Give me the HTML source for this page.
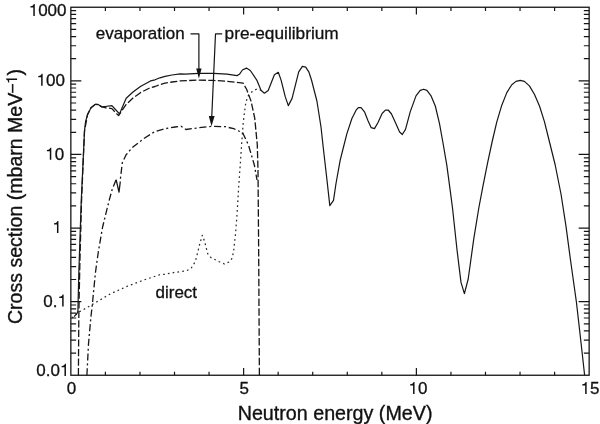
<!DOCTYPE html>
<html><head><meta charset="utf-8"><title>Neutron spectrum</title>
<style>html,body{margin:0;padding:0;background:#fff}svg{display:block;will-change:transform}</style></head>
<body><svg width="600" height="424" viewBox="0 0 600 424">
<rect width="600" height="424" fill="#fff"/>
<rect x="70.85" y="7.25" width="518.30" height="368.00" fill="none" stroke="#161616" stroke-width="1.3"/>
<path d="M70.85,353.09h5.3M589.15,353.09h-5.3M70.85,340.13h5.3M589.15,340.13h-5.3M70.85,330.94h5.3M589.15,330.94h-5.3M70.85,323.81h5.3M589.15,323.81h-5.3M70.85,317.98h5.3M589.15,317.98h-5.3M70.85,313.05h5.3M589.15,313.05h-5.3M70.85,308.78h5.3M589.15,308.78h-5.3M70.85,305.02h5.3M589.15,305.02h-5.3M70.85,301.65h10.5M589.15,301.65h-10.5M70.85,279.49h5.3M589.15,279.49h-5.3M70.85,266.53h5.3M589.15,266.53h-5.3M70.85,257.34h5.3M589.15,257.34h-5.3M70.85,250.21h5.3M589.15,250.21h-5.3M70.85,244.38h5.3M589.15,244.38h-5.3M70.85,239.45h5.3M589.15,239.45h-5.3M70.85,235.18h5.3M589.15,235.18h-5.3M70.85,231.42h5.3M589.15,231.42h-5.3M70.85,228.05h10.5M589.15,228.05h-10.5M70.85,205.89h5.3M589.15,205.89h-5.3M70.85,192.93h5.3M589.15,192.93h-5.3M70.85,183.74h5.3M589.15,183.74h-5.3M70.85,176.61h5.3M589.15,176.61h-5.3M70.85,170.78h5.3M589.15,170.78h-5.3M70.85,165.85h5.3M589.15,165.85h-5.3M70.85,161.58h5.3M589.15,161.58h-5.3M70.85,157.82h5.3M589.15,157.82h-5.3M70.85,154.45h10.5M589.15,154.45h-10.5M70.85,132.29h5.3M589.15,132.29h-5.3M70.85,119.33h5.3M589.15,119.33h-5.3M70.85,110.14h5.3M589.15,110.14h-5.3M70.85,103.01h5.3M589.15,103.01h-5.3M70.85,97.18h5.3M589.15,97.18h-5.3M70.85,92.25h5.3M589.15,92.25h-5.3M70.85,87.98h5.3M589.15,87.98h-5.3M70.85,84.22h5.3M589.15,84.22h-5.3M70.85,80.85h10.5M589.15,80.85h-10.5M70.85,58.69h5.3M589.15,58.69h-5.3M70.85,45.73h5.3M589.15,45.73h-5.3M70.85,36.54h5.3M589.15,36.54h-5.3M70.85,29.41h5.3M589.15,29.41h-5.3M70.85,23.58h5.3M589.15,23.58h-5.3M70.85,18.65h5.3M589.15,18.65h-5.3M70.85,14.38h5.3M589.15,14.38h-5.3M70.85,10.62h5.3M589.15,10.62h-5.3M105.40,375.25v-3.6M105.40,7.25v3.8M139.96,375.25v-3.6M139.96,7.25v3.8M174.51,375.25v-3.6M174.51,7.25v3.8M209.06,375.25v-3.6M209.06,7.25v3.8M243.62,375.25v-7.2M243.62,7.25v7.3M278.17,375.25v-3.6M278.17,7.25v3.8M312.72,375.25v-3.6M312.72,7.25v3.8M347.28,375.25v-3.6M347.28,7.25v3.8M381.83,375.25v-3.6M381.83,7.25v3.8M416.38,375.25v-7.2M416.38,7.25v7.3M450.94,375.25v-3.6M450.94,7.25v3.8M485.49,375.25v-3.6M485.49,7.25v3.8M520.04,375.25v-3.6M520.04,7.25v3.8M554.60,375.25v-3.6M554.60,7.25v3.8" fill="none" stroke="#161616" stroke-width="1.2"/>
<g fill="none" stroke="#161616" stroke-width="1.2" stroke-linejoin="round">
<path d="M72,318 L78,312.5 L81,311 L91.8,304.8 L110.3,293.9 L127,286.4 L143.8,280 L160,274.7 L165,274.3 L175,272.3 L186,271 L191,268.5 L195.2,261.8 L197.7,252.5 L199.5,245 L202.2,235.3 L204.5,241 L206.5,249 L207.7,253.7 L211,257.6 L219.4,261.8 L224.5,264 L229.5,261.8 L232,258.4 L233.5,252 L235.4,235 L237,215 L238.7,186.7 L240.1,166.9 L241.8,141.8 L243.2,123 L244.4,113 L245.9,101.9 L248.5,95.2 L251.8,91.9 L256.8,89 L261,90.2" stroke-dasharray="1.7 3.15" stroke-width="1.25" stroke="#2a2a2a"/>
<path d="M86.9,375.25 L88.5,344 L90.8,318 L92.3,304.8 L95.4,273 L96.9,262 L98.3,252 L102.6,227 L109.0,201 L112,190 L116.1,179.6" stroke-dasharray="7.1 2.8 2.0 2.8" stroke-width="1.3"/>
<path d="M116.1,179.6 L119,192.1 L120.3,181.5" stroke-width="1.3"/>
<path d="M120.3,181.5 L120.5,178 L122.3,162.8 L126,155 L132,147.8 L143.8,138.5 L155,131.5 L165,128.7 L175,127 L181,126.2 L186,129.5 L198.6,127.8 L212,126.2 L225.4,126.7 L233.7,128.7 L238.8,131 L242.6,132.6 L248.5,145.1 L254.4,165.2 L257,180" stroke-dasharray="7.14 2.81 2.01 2.82" stroke-dashoffset="7.14" stroke-width="1.3"/>
<path d="M78.4,375.25 L78.8,318 L79.3,290 L79.9,262 L80.8,228 L81.5,202 L84.5,131 L87.6,114.4 L91,107.7 L95.2,104.4" stroke-dasharray="7.2 2.35" stroke-width="1.3"/>
<path d="M95.2,104.4 L98.2,104.5 L101.9,106.9 L106,107.8 L111.9,108.6 L115,112 L118.6,115.6 L121,112 L126.2,104.4 L133,98 L140.4,92.7 L150.5,87.6 L155,86.5 L160,84.5 L165,83.1 L172,82 L180.1,80.9 L198.6,80.1 L213.6,80.4 L227,81.3 L243.1,83.1 L246.7,89.5 L251.0,101 L254.7,118 L257.3,145 L258.0,170" stroke-dasharray="7.2 2.35" stroke-dashoffset="4.48" stroke-width="1.3"/>
<path d="M259.4,375.25 L258.7,256 L258.0,170" stroke-dasharray="7.5 2.4" stroke-width="1.3"/>
<path d="M74,316.6 L77,313.6 L77.9,311 L78.4,290 L78.9,270 L79.6,250 L81.2,202 L84.5,131 L85.5,122 L87.6,114.4 L91,107.7 L95.2,104.4 L98.2,104.5 L101.9,106.9 L105,106.5 L111.9,105.7 L115,109 L119.5,113.9 L122,108 L126.2,98.2 L133,92 L140.4,86.5 L150.5,80.9 L155,79.8 L160,77.8 L165,76.4 L172,75 L180.1,73.9 L185.2,74.2 L198.6,73.4 L213.6,73.4 L227,74.2 L237,75.6 L239.4,74.3 L242.4,70 L246.4,68.1 L250.3,70.5 L256.8,80.1 L261,90.2 L264.4,93.2 L268.2,90.5 L274.4,74.8 L278.3,72.3 L281.1,80.1 L285.3,96.9 L288.3,105.6 L292,98.6 L298.7,71.8 L302.4,66.4 L305.7,67.1 L308.8,71.8 L311.5,80 L316.9,101 L321,127 L323.3,148 L326.8,178.5 L329.8,205.6 L333.5,200.3 L336,183.5 L340.2,160.1 L343,149 L346.9,133.6 L351.9,118.5 L356.1,110.2 L358.3,107.6 L361.1,107.6 L364.5,111.8 L367.8,120.2 L371.2,127.7 L374.5,128.6 L377.9,122.7 L382.1,113.5 L385.4,110.2 L388.2,110 L391.5,114 L395.6,123 L399.6,132 L402.3,134.5 L405.5,129.4 L410.2,111.9 L416,95.9 L420.2,90.4 L423.6,89.2 L426.9,90.4 L431.1,95.9 L435.3,106 L439.5,123.6 L443,143 L446.8,165.1 L450.2,190.3 L452.5,208 L457,249.8 L461,282.4 L464.4,293.6 L468.2,279 L473.8,238.6 L478.8,208 L482.8,186.9 L487.8,161.8 L492.3,141 L496.8,121.9 L501.8,105.2 L506.8,92.6 L511.8,84.7 L516,81.4 L520.2,80.4 L524.4,81.4 L529.4,85.9 L534.4,94.3 L539.5,106 L544.5,121.9 L548.5,138 L555.1,164.5 L561,194 L566,226.4 L570.5,260 L576.4,302 L580.5,338 L584.6,375"/>
<path d="M190.5,33.9H198.9V70"/>
<path d="M222.2,33.9H215.5L211.7,118"/>
</g>
<path d="M196.2,68.6h5.4L198.9,78.6z" fill="#111"/>
<path d="M208.8,116h5.8L211.5,126.3z" fill="#111"/>
<g font-family="'Liberation Sans', sans-serif" fill="#111" stroke="#111" stroke-width="0.3" font-size="17">
<path transform="translate(28.69,16) scale(0.01700)" d="M271 0L359 0L359 -709L300 -709C284 -640 236 -578 101 -570L101 -507L271 -507Z"/><text x="38.14" y="16" font-size="17">000</text>
<path transform="translate(36.54,85.8) scale(0.01700)" d="M271 0L359 0L359 -709L300 -709C284 -640 236 -578 101 -570L101 -507L271 -507Z"/><text x="46.00" y="85.8" font-size="17">00</text>
<path transform="translate(45.20,159.8) scale(0.01700)" d="M271 0L359 0L359 -709L300 -709C284 -640 236 -578 101 -570L101 -507L271 -507Z"/><text x="54.65" y="159.8" font-size="17">0</text>
<path transform="translate(52.35,233) scale(0.01700)" d="M271 0L359 0L359 -709L300 -709C284 -640 236 -578 101 -570L101 -507L271 -507Z"/>
<text x="43.37" y="306.5" font-size="17">0.</text><path transform="translate(57.55,306.5) scale(0.01700)" d="M271 0L359 0L359 -709L300 -709C284 -640 236 -578 101 -570L101 -507L271 -507Z"/>
<text x="36.22" y="375.9" font-size="17">0.0</text><path transform="translate(59.85,375.9) scale(0.01700)" d="M271 0L359 0L359 -709L300 -709C284 -640 236 -578 101 -570L101 -507L271 -507Z"/>
<text x="66.67" y="394" font-size="17">0</text>
<text x="239.47" y="394" font-size="17">5</text>
<path transform="translate(408.45,394) scale(0.01700)" d="M271 0L359 0L359 -709L300 -709C284 -640 236 -578 101 -570L101 -507L271 -507Z"/><text x="417.90" y="394" font-size="17">0</text>
<path transform="translate(580.55,394) scale(0.01700)" d="M271 0L359 0L359 -709L300 -709C284 -640 236 -578 101 -570L101 -507L271 -507Z"/><text x="590.00" y="394" font-size="17">5</text>
<text x="95.8" y="39.1">evaporation</text>
<text x="224.6" y="38.8" font-size="17.25">pre-equilibrium</text>
<text x="155.5" y="298.4">direct</text>
</g>
<g font-family="'Liberation Sans', sans-serif" fill="#111" stroke="#111" stroke-width="0.35" font-size="19.55">
<text x="237.7" y="420.3" font-size="19.7">Neutron energy (MeV)</text>
<g transform="translate(22.3,324.0) rotate(-90)"><text x="0" y="0">Cross section (mbarn MeV</text><text x="231.20" y="-5.2" font-size="15.6">–</text><path transform="translate(239.87,-5.2) scale(0.01560)" d="M271 0L359 0L359 -709L300 -709C284 -640 236 -578 101 -570L101 -507L271 -507Z"/><text x="248.55" y="0">)</text></g>
</g>
</svg></body></html>
